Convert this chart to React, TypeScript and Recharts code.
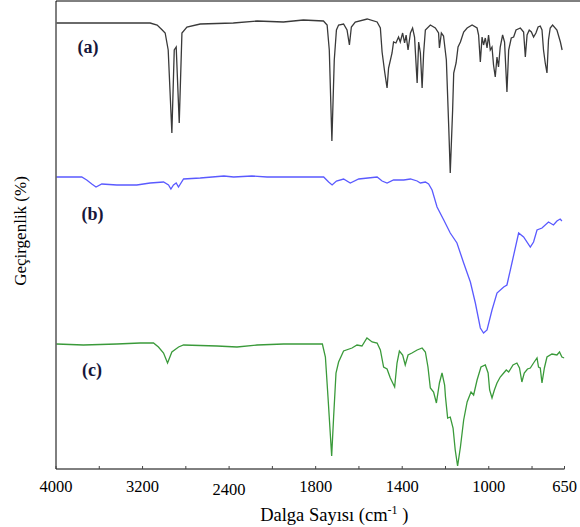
import React from 'react';
import { LineChart, Line, XAxis, YAxis, ReferenceDot, ReferenceLine, Label } from 'recharts';

// IR spectra, wavenumber (cm-1) vs transmittance (offset, arbitrary units)
const SPECTRUM_A: [number, number][] = [
  [3994, 446], [3750, 446], [3435, 446], [3130, 446], [3065, 444], [3018, 439], [2991, 436],
  [2963, 419], [2929, 336], [2907, 419], [2889, 422], [2861, 346], [2836, 436], [2790, 442],
  [2667, 445], [2361, 446], [2141, 448], [1949, 447], [1857, 449], [1764, 448], [1747, 444],
  [1737, 419], [1725, 328], [1714, 409], [1704, 439], [1694, 444], [1671, 445], [1655, 439],
  [1644, 424], [1635, 442], [1617, 447], [1562, 450], [1516, 447], [1501, 441], [1493, 417],
  [1481, 397], [1470, 381], [1463, 401], [1447, 416], [1440, 427], [1429, 426], [1417, 432],
  [1409, 427], [1398, 436], [1389, 426], [1382, 434], [1373, 419], [1362, 436], [1352, 441],
  [1343, 432], [1331, 386], [1324, 427], [1316, 416], [1308, 381], [1301, 416], [1293, 439],
  [1270, 444], [1247, 441], [1232, 436], [1228, 421], [1219, 436], [1209, 433], [1196, 409],
  [1185, 342], [1178, 296], [1167, 359], [1162, 396], [1151, 406], [1142, 422], [1131, 427],
  [1116, 437], [1100, 441], [1077, 444], [1054, 441], [1047, 434], [1039, 407], [1031, 432],
  [1024, 424], [1016, 431], [1008, 421], [1001, 434], [993, 419], [985, 422], [978, 404],
  [970, 392], [962, 412], [955, 402], [947, 422], [936, 434], [927, 427], [916, 377],
  [908, 419], [896, 431], [885, 432], [874, 439], [854, 441], [839, 437], [831, 412],
  [823, 434], [813, 439], [803, 437], [793, 432], [782, 436], [772, 442], [762, 443],
  [754, 439], [747, 419], [739, 406], [731, 396], [724, 429], [716, 441], [705, 444],
  [685, 439], [669, 427], [661, 419],
];

const SPECTRUM_B: [number, number][] = [
  [3994, 292], [3870, 292], [3762, 292], [3716, 289], [3669, 285], [3630, 282], [3577, 285],
  [3438, 284], [3253, 284], [3130, 286], [3006, 287], [2960, 284], [2938, 280], [2914, 284],
  [2889, 286], [2868, 282], [2821, 290], [2667, 291], [2448, 293], [2358, 292], [2190, 293],
  [2049, 292], [1948, 292], [1763, 292], [1740, 287], [1724, 284], [1704, 288], [1671, 290],
  [1640, 286], [1601, 290], [1516, 292], [1493, 288], [1470, 286], [1440, 289], [1393, 289],
  [1362, 290], [1331, 288], [1316, 286], [1293, 287], [1278, 285], [1262, 279], [1239, 262],
  [1208, 249], [1178, 236], [1147, 226], [1116, 206], [1085, 187], [1062, 166], [1039, 141],
  [1024, 136], [1008, 139], [985, 159], [962, 176], [931, 182], [916, 184], [893, 206],
  [862, 236], [839, 232], [808, 222], [793, 227], [777, 239], [754, 241], [724, 247],
  [701, 244], [685, 248], [670, 250], [662, 248],
];

const SPECTRUM_C: [number, number][] = [
  [3994, 125], [3747, 124], [3438, 125], [3222, 126], [3099, 126], [3053, 122], [3006, 116],
  [2969, 106], [2929, 117], [2867, 122], [2821, 124], [2512, 123], [2327, 122], [2142, 124],
  [1948, 125], [1769, 125], [1755, 112], [1743, 72], [1726, 13], [1717, 52], [1706, 96],
  [1694, 107], [1671, 118], [1632, 121], [1609, 124], [1586, 123], [1563, 131], [1539, 127],
  [1516, 126], [1501, 119], [1486, 102], [1470, 100], [1455, 91], [1435, 82], [1424, 106],
  [1413, 118], [1398, 114], [1386, 104], [1373, 114], [1355, 116], [1331, 119], [1308, 121],
  [1293, 117], [1281, 102], [1270, 81], [1255, 77], [1242, 66], [1228, 86], [1216, 96],
  [1204, 84], [1200, 72], [1190, 51], [1178, 52], [1165, 41], [1155, 19], [1144, 3],
  [1131, 22], [1116, 49], [1100, 67], [1082, 77], [1070, 74], [1054, 89], [1036, 102],
  [1016, 104], [1003, 96], [996, 79], [985, 71], [974, 79], [962, 86], [947, 92],
  [931, 96], [919, 99], [908, 97], [888, 104], [870, 106], [858, 101], [847, 87],
  [836, 96], [821, 100], [808, 101], [793, 106], [777, 111], [770, 102], [762, 101],
  [754, 86], [743, 101], [731, 112], [708, 115], [685, 114], [673, 117], [662, 112],
  [651, 111],
];

const TICK_WAVENUMBERS = [4000, 3600, 3200, 2800, 2400, 2000, 1800, 1600, 1400, 1200, 1000, 800, 650];
const LABELLED_TICKS = [4000, 3200, 2400, 1800, 1400, 1000, 650];

// spectrum tags: [text, wavenumber, transmittance]
const TAGS: [string, number, number][] = [
  ['(a)', 3704, 422],
  ['(b)', 3662, 255],
  ['(c)', 3667, 99],
];

const SERIES = [
  { key: 'a', points: SPECTRUM_A, color: '#3a3a3a' },
  { key: 'b', points: SPECTRUM_B, color: '#5a5aff' },
  { key: 'c', points: SPECTRUM_C, color: '#3a9a3a' },
];

// the instrument halves the scale above 2000 cm-1
const toPos = (wn: number) => (wn >= 2000 ? (4000 - wn) / 2 : 1000 + (2000 - wn));
const fromPos = (p: number) => Math.round(p <= 1000 ? 4000 - 2 * p : 2000 - (p - 1000));

const FONT = '"Liberation Serif", "Times New Roman", serif';

function WavenumberTick(props: any) {
  const { x, y, payload } = props;
  const wn = fromPos(payload.value);
  return (
    <g>
      <line x1={x} x2={x} y1={y} y2={y - 3} stroke="#444" />
      {LABELLED_TICKS.includes(wn) && (
        <text x={x} y={y + 23 + (wn === 2400 ? 2.5 : 0)} textAnchor="middle" fontSize={16.5} fontFamily={FONT} fill="#000">
          {wn}
        </text>
      )}
    </g>
  );
}

function XTitle(props: any) {
  const { viewBox } = props;
  const cx = viewBox.x + viewBox.width / 2 + 24;
  const y = viewBox.y + 52;
  return (
    <text x={cx} y={y} textAnchor="middle" fontSize={18.5} fontFamily={FONT} fill="#000">
      Dalga Sayısı (cm
      <tspan fontSize={12} dy={-7}>-1</tspan>
      <tspan dy={7}> )</tspan>
    </text>
  );
}

function YTitle(props: any) {
  const { viewBox } = props;
  const cy = viewBox.y + viewBox.height / 2 - 4;
  return (
    <text x={20} y={cy} transform={`rotate(-90 20 ${cy})`} textAnchor="middle" dominantBaseline="central"
      fontSize={17} fontFamily={FONT} fill="#000">
      Geçirgenlik (%)
    </text>
  );
}

export default function App() {
  const ticks = TICK_WAVENUMBERS.map(toPos);
  return (
    <div style={{ position: 'absolute', left: 0, top: 0, width: 580, height: 527, background: '#fff' }}>
      <LineChart width={580} height={527} margin={{ top: 1, right: 15.5, bottom: 0, left: 0 }}>
        <XAxis
          type="number"
          dataKey="pos"
          domain={[0, 2350]}
          ticks={ticks}
          interval={0}
          allowDataOverflow
          height={58}
          tickSize={0}
          tickMargin={0}
          tickLine={false}
          tick={<WavenumberTick />}
          axisLine={{ stroke: '#000' }}
        >
          <Label content={<XTitle />} />
        </XAxis>
        <YAxis
          type="number"
          domain={[0, 468]}
          width={56}
          tick={false}
          tickLine={false}
          axisLine={{ stroke: '#000' }}
        >
          <Label content={<YTitle />} />
        </YAxis>
        <ReferenceLine
          segment={[{ x: 0, y: 468 }, { x: 2425, y: 468 }]}
          stroke="#000"
          ifOverflow="visible"
        />
        {SERIES.map((s) => (
          <Line
            key={s.key}
            data={s.points.map(([wn, t]) => ({ pos: toPos(wn), t }))}
            dataKey="t"
            type="linear"
            stroke={s.color}
            strokeWidth={1.3}
            dot={false}
            isAnimationActive={false}
          />
        ))}
        {TAGS.map(([text, wn, t]) => (
          <ReferenceDot
            key={text}
            x={toPos(wn)}
            y={t}
            r={0}
            stroke="none"
            fill="none"
            label={{ value: text, position: 'center', fill: '#16163a', fontSize: 18, fontWeight: 'bold', fontFamily: FONT }}
          />
        ))}
      </LineChart>
    </div>
  );
}
